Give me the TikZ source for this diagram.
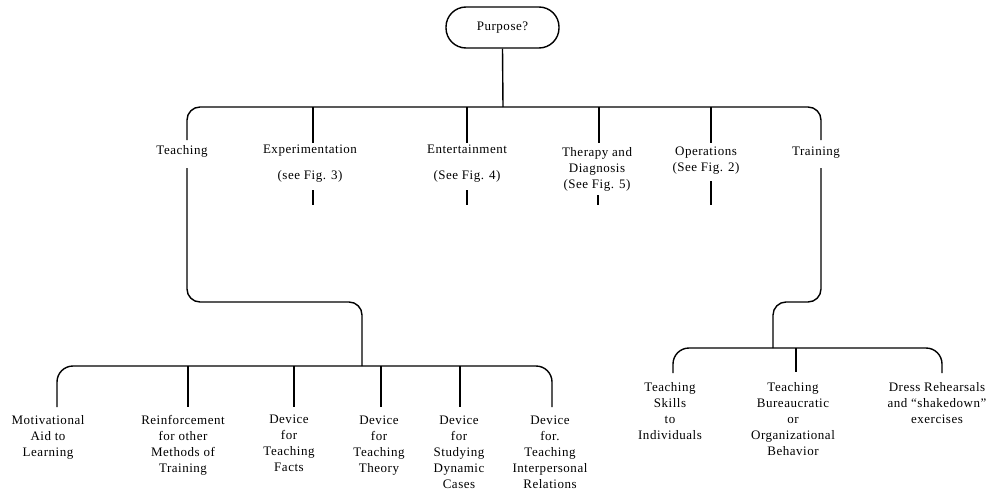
\documentclass[tikz,border=0pt]{standalone}
\usepackage{fontspec}
\setmainfont{Liberation Serif}[LetterSpace=4]
\begin{document}
\begin{tikzpicture}[x=1pt,y=-1pt,
  conn/.style={line width=1.4pt,line join=round},
  lbl/.style={align=center,inner sep=0pt,anchor=north,font=\fontsize{13}{16}\selectfont},
  pbox/.style={draw,line width=1.4pt,rounded corners=20pt,minimum width=113pt,minimum height=41pt,inner sep=0pt,font=\fontsize{13}{16}\selectfont}]
\useasboundingbox (0,0) rectangle (992,495);
% top
\node[pbox] (purpose) at (502.5,27.5) {Purpose?};
\coordinate (bus1) at (503,107);
\draw[conn] (purpose.south) -- (bus1);
% first level labels
\node[lbl] (teach) at (182,145) {Teaching};
\node[lbl] (exper) at (310,145) {Experimentation\\[10pt](see Fig. 3)};
\node[lbl] (enter) at (467,145) {Entertainment\\[10pt](See Fig. 4)};
\node[lbl] (thera) at (597,147) {Therapy and\\Diagnosis\\(See Fig. 5)};
\node[lbl] (opera) at (706,147) {Operations\\(See Fig. 2)};
\node[lbl] (train) at (816,147) {Training};
% first level connector coordinates
\coordinate (teachT) at (187,140);
\coordinate (trainT) at (821,140);
\coordinate (experT) at (313,143);
\coordinate (enterT) at (467,143);
\coordinate (theraT) at (599,143);
\coordinate (operaT) at (711,143);
\draw[conn,rounded corners=13pt] (teachT) -- (187,107) -- (821,107) -- (trainT);
\draw[conn] (313,107) -- (experT);
\draw[conn] (467,107) -- (enterT);
\draw[conn] (599,107) -- (theraT);
\draw[conn] (711,107) -- (operaT);
% stubs below
\coordinate (experA) at (313,190); \coordinate (experB) at (313,205);
\coordinate (enterA) at (467,190); \coordinate (enterB) at (467,205);
\coordinate (theraA) at (598,195); \coordinate (theraB) at (598,205);
\coordinate (operaA) at (711,181); \coordinate (operaB) at (711,205);
\draw[conn] (experA) -- (experB);
\draw[conn] (enterA) -- (enterB);
\draw[conn] (theraA) -- (theraB);
\draw[conn] (operaA) -- (operaB);
% teaching branch
\coordinate (teachB) at (187,168);
\coordinate (bus2) at (362,366);
\draw[conn,rounded corners=13pt] (teachB) -- (187,302) -- (362,302) -- (bus2);
\coordinate (motT) at (57,407);
\coordinate (intT) at (552,407);
\draw[conn,rounded corners=16pt] (motT) -- (57,366) -- (552,366) -- (intT);
\coordinate (reiT) at (188,407);
\coordinate (facT) at (294,407);
\coordinate (theT) at (381,407);
\coordinate (stuT) at (460,407);
\draw[conn] (188,366) -- (reiT);
\draw[conn] (294,366) -- (facT);
\draw[conn] (381,366) -- (theT);
\draw[conn] (460,366) -- (stuT);
\node[lbl] (mot) at (48,415) {Motivational\\Aid to\\Learning};
\node[lbl] (rei) at (183,415) {Reinforcement\\for other\\Methods of\\Training};
\node[lbl] (fac) at (289,415) {Device\\for\\Teaching\\Facts};
\node[lbl] (the) at (379,416) {Device\\for\\Teaching\\Theory};
\node[lbl] (stu) at (459,416) {Device\\for\\Studying\\Dynamic\\Cases};
\node[lbl] (int) at (550,416) {Device\\for.\\Teaching\\Interpersonal\\Relations};
% training branch
\coordinate (trainB) at (821,168);
\coordinate (bus3) at (773,348);
\draw[conn,rounded corners=13pt] (trainB) -- (821,302) -- (773,302) -- (bus3);
\coordinate (skiT) at (673,373);
\coordinate (dreT) at (942,373);
\coordinate (burT) at (796,372);
\draw[conn,rounded corners=16pt] (skiT) -- (673,348) -- (942,348) -- (dreT);
\draw[conn] (796,348) -- (burT);
\node[lbl] (ski) at (670,382) {Teaching\\Skills\\to\\Individuals};
\node[lbl] (bur) at (793,382) {Teaching\\Bureaucratic\\or\\Organizational\\Behavior};
\node[lbl] (dre) at (937,382) {Dress Rehearsals\\and ``shakedown''\\exercises};
\end{tikzpicture}
\end{document}
